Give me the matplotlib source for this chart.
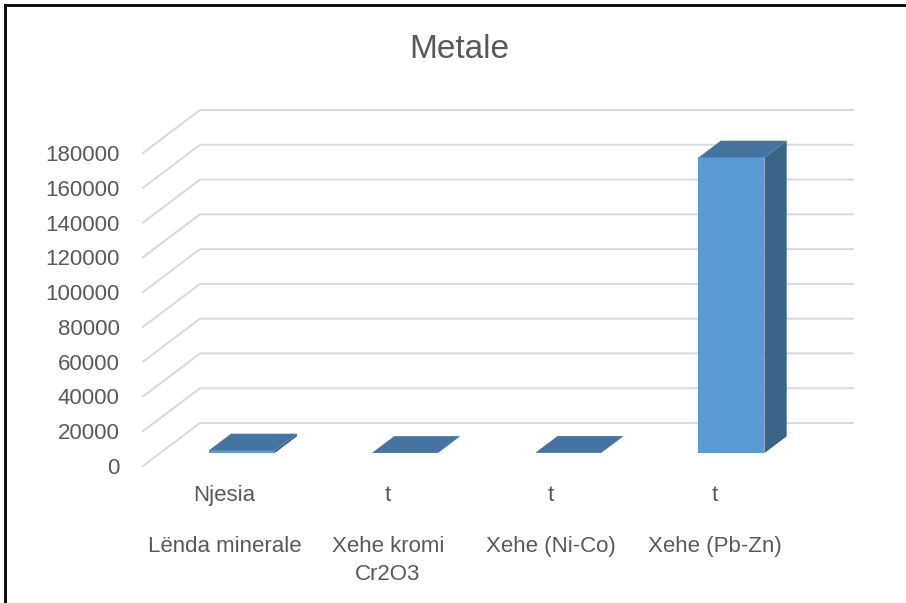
import matplotlib
matplotlib.use("Agg")
import matplotlib.pyplot as plt
from matplotlib.patches import Polygon
from matplotlib.lines import Line2D

# data
categories = ["Lënda minerale", "Xehe kromi\nCr2O3", "Xehe (Ni-Co)", "Xehe (Pb-Zn)"]
units = ["Njesia", "t", "t", "t"]
values = [1500, 100, 150, 170000]
yticks = list(range(0, 180001, 20000))

plt.rcParams["font.family"] = ["Liberation Sans", "DejaVu Sans"]
TXT = "#595959"
GRID = "#D9D9D9"
FRONT, TOP, SIDE = "#5B9BD5", "#44749F", "#3A6488"

W, H = 906, 603
fig = plt.figure(figsize=(W / 100, H / 100), dpi=100)
ax = fig.add_axes([143 / W, (H - 466) / H, 653 / W, 313 / H])
ax.set_xlim(-0.5, 3.5)
ax.set_ylim(0, 180000)
for s in ax.spines.values():
    s.set_visible(False)

# oblique depth (full depth of the floor) in data units
DX = 57 / (653 / 4)
DY = 43 / (313 / 180000)

# gridlines: diagonal on the side, then across the back wall
x_left, x_right = ax.get_xlim()
for v in yticks:
    ax.add_line(Line2D([x_left, x_left + DX, x_right + DX], [v, v + DY, v + DY],
                       color=GRID, lw=1.4, clip_on=False, zorder=1))

# 3d bars
w = 0.404
d0, dd = 0.30, 0.39
for i, v in enumerate(values):
    x0 = i - w / 2 + d0 * DX
    y0 = d0 * DY
    ox, oy = dd * DX, dd * DY
    front = [(x0, y0), (x0 + w, y0), (x0 + w, y0 + v), (x0, y0 + v)]
    side = [(x0 + w, y0), (x0 + w + ox, y0 + oy), (x0 + w + ox, y0 + v + oy), (x0 + w, y0 + v)]
    top = [(x0, y0 + v), (x0 + w, y0 + v), (x0 + w + ox, y0 + v + oy), (x0 + ox, y0 + v + oy)]
    for pts, c in ((side, SIDE), (front, FRONT), (top, TOP)):
        ax.add_patch(Polygon(pts, closed=True, facecolor=c, edgecolor="none",
                             clip_on=False, zorder=3))

ax.set_yticks(yticks)
ax.set_yticklabels([str(t) for t in yticks])
ax.tick_params(axis="y", length=0, pad=17, labelsize=16, labelcolor=TXT)
ax.set_xticks([])

# two-level category axis
for i, (u, c) in enumerate(zip(units, categories)):
    ax.annotate(u, xy=(i, 0), xycoords=("data", "axes fraction"),
                xytext=(0, -13.5), textcoords="offset points",
                ha="center", va="top", fontsize=16, color=TXT)
    ax.annotate(c, xy=(i, 0), xycoords=("data", "axes fraction"),
                xytext=(0, -50.5), textcoords="offset points",
                ha="center", va="top", fontsize=16, color=TXT, linespacing=1.45)

fig.text(459 / W, 1 - 50 / H, "Metale", ha="center", va="center",
         fontsize=24, color=TXT)

# chart frame (top and left edges visible)
fig.add_artist(Line2D([5 / W, 1], [1 - 5 / H, 1 - 5 / H], color="black", lw=2,
                      transform=fig.transFigure))
fig.add_artist(Line2D([5 / W, 5 / W], [0, 1 - 5 / H], color="black", lw=2,
                      transform=fig.transFigure))

fig.savefig("out.png", dpi=100)
